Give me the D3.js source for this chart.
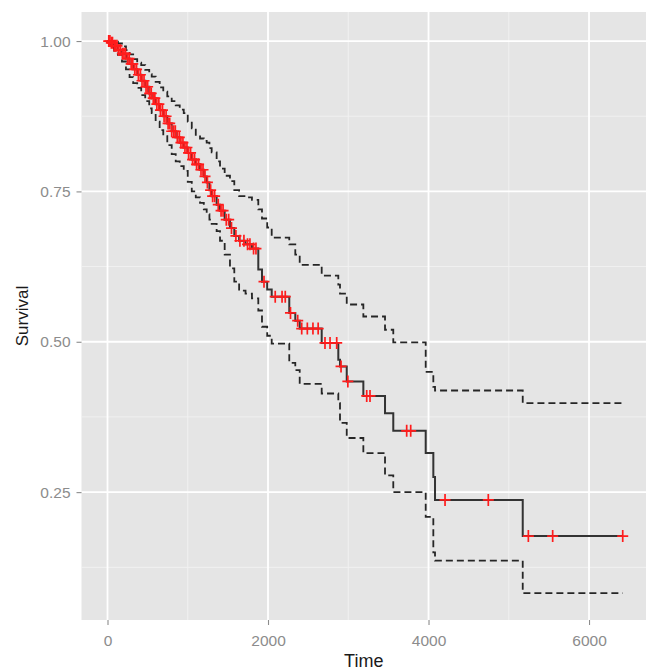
<!DOCTYPE html>
<html>
<head>
<meta charset="utf-8">
<script src="https://cdn.jsdelivr.net/npm/d3@7"></script>
<style>
  body { margin: 0; background: #fff; }
  svg text { font-family: "Liberation Sans", Arial, sans-serif; }
</style>
</head>
<body>
<svg id="chart" width="646" height="671"></svg>
<script>
// Kaplan-Meier estimate (step values after each event)
const eventTime = [0, 35, 80, 130, 180, 230, 275, 320, 370, 420, 470, 520, 551, 600, 650, 695, 745, 800, 850, 900,
  950, 1000, 1050, 1100, 1153, 1200, 1236, 1270, 1298, 1360, 1402, 1460, 1526, 1580, 1640, 1720, 1800,
  1879, 1925, 1990, 2046, 2265, 2340, 2395, 2669, 2876, 2897, 2981, 3188, 3458, 3561, 3965, 4060, 4081, 5174];
const survival = [1.000, 0.997, 0.992, 0.985, 0.979, 0.971, 0.962, 0.953, 0.944, 0.934, 0.924, 0.913, 0.905, 0.895, 0.885, 0.875, 0.863, 0.850, 0.840, 0.831,
  0.823, 0.814, 0.803, 0.795, 0.786, 0.775, 0.765, 0.752, 0.742, 0.728, 0.718, 0.703, 0.689, 0.676, 0.668, 0.662, 0.655,
  0.620, 0.600, 0.587, 0.575, 0.548, 0.535, 0.522, 0.498, 0.470, 0.459, 0.434, 0.410, 0.381, 0.352, 0.315, 0.275, 0.237, 0.177];
const upperCI = [1.000, 1.000, 0.999, 0.996, 0.991, 0.985, 0.978, 0.970, 0.964, 0.960, 0.952, 0.945, 0.941, 0.932, 0.923, 0.916, 0.908, 0.900, 0.893, 0.886,
  0.880, 0.866, 0.855, 0.844, 0.838, 0.834, 0.831, 0.822, 0.815, 0.800, 0.788, 0.776, 0.767, 0.752, 0.742, 0.740, 0.736,
  0.720, 0.705, 0.690, 0.673, 0.662, 0.645, 0.628, 0.610, 0.595, 0.580, 0.562, 0.542, 0.520, 0.499, 0.450, 0.425, 0.419, 0.398];
const lowerCI = [1.000, 0.990, 0.984, 0.977, 0.966, 0.953, 0.940, 0.930, 0.922, 0.910, 0.900, 0.888, 0.880, 0.866, 0.852, 0.842, 0.827, 0.812, 0.800, 0.792,
  0.784, 0.766, 0.750, 0.740, 0.731, 0.720, 0.712, 0.703, 0.696, 0.684, 0.668, 0.645, 0.622, 0.600, 0.585, 0.580, 0.572,
  0.552, 0.525, 0.510, 0.497, 0.465, 0.453, 0.430, 0.414, 0.398, 0.365, 0.340, 0.315, 0.278, 0.250, 0.209, 0.150, 0.136, 0.082];
const endTime = 6420;

// censored observations
const censorTime = [15, 30, 48, 62, 85, 100, 118, 140, 160, 185, 205, 225, 250, 270, 295, 315, 340, 362, 385, 410,
  430, 455, 480, 500, 525, 545, 570, 590, 615, 640, 660, 685, 705, 730, 755, 775, 800, 825, 845, 870,
  895, 915, 940, 965, 990, 1010, 1035, 1060, 1085, 1110, 1135, 1165, 1190, 1215, 1245, 1285, 1310, 1335, 1380, 1415,
  1440, 1480, 1510, 1545, 1600, 1650, 1700, 1745, 1775, 1820, 1850,
  1950, 2090, 2175, 2215, 2280, 2370, 2420, 2490, 2560, 2625, 2710, 2773, 2856, 2910, 2995, 3230, 3271,
  3728, 3778, 4206, 4745, 5244, 5547, 6420];

const xTicks = [0, 2000, 4000, 6000];
const xMinor = [1000, 3000, 5000];
const yTicks = [0.25, 0.50, 0.75, 1.00];
const yMinor = [0.125, 0.375, 0.625, 0.875];

const svg = d3.select("#chart");
const panel = { left: 81.5, right: 646, top: 12, bottom: 620 };

const x = d3.scaleLinear().domain([-324, 6710]).range([panel.left, panel.right]);
const y = d3.scaleLinear().domain([0.0374, 1.0483]).range([panel.bottom, panel.top]);

// panel background + grid
svg.append("rect")
  .attr("x", panel.left).attr("y", panel.top)
  .attr("width", panel.right - panel.left).attr("height", panel.bottom - panel.top)
  .attr("fill", "#e5e5e5");

let grid = svg.append("g");
grid.selectAll("line.ymin").data(yMinor).enter().append("line")
  .attr("x1", panel.left).attr("x2", panel.right)
  .attr("y1", d => y(d)).attr("y2", d => y(d))
  .attr("stroke", "#f2f2f2").attr("stroke-width", 0.9);
grid.selectAll("line.xmin").data(xMinor).enter().append("line")
  .attr("y1", panel.top).attr("y2", panel.bottom)
  .attr("x1", d => x(d)).attr("x2", d => x(d))
  .attr("stroke", "#f2f2f2").attr("stroke-width", 0.9);
grid.selectAll("line.ymaj").data(yTicks).enter().append("line")
  .attr("x1", panel.left).attr("x2", panel.right)
  .attr("y1", d => y(d)).attr("y2", d => y(d))
  .attr("stroke", "#fff").attr("stroke-width", 1.8);
grid.selectAll("line.xmaj").data(xTicks).enter().append("line")
  .attr("y1", panel.top).attr("y2", panel.bottom)
  .attr("x1", d => x(d)).attr("x2", d => x(d))
  .attr("stroke", "#fff").attr("stroke-width", 1.8);

// axes
let xAxis = d3.axisBottom(x).tickValues(xTicks).tickSize(5).tickPadding(10).tickFormat(d3.format("d"));
let yAxis = d3.axisLeft(y).tickValues(yTicks).tickSize(5).tickPadding(6).tickFormat(d3.format(".2f"));

let xGroup = svg.append("g").attr("transform", "translate(0," + panel.bottom + ")").call(xAxis);
let yGroup = svg.append("g").attr("transform", "translate(" + panel.left + ",0)").call(yAxis);
[xGroup, yGroup].forEach(g => {
  g.select(".domain").remove();
  g.selectAll(".tick line").attr("stroke", "#8c8c8c").attr("stroke-width", 1.1);
  g.selectAll(".tick text").attr("fill", "#8c8c8c").style("font-size", "15.5px");
});

// step curves
const stepData = vals => {
  let pts = eventTime.map((t, i) => [t, vals[i]]);
  pts.push([endTime, vals[vals.length - 1]]);
  return pts;
};
const step = d3.line().x(d => x(d[0])).y(d => y(d[1])).curve(d3.curveStepAfter);

svg.append("path").attr("d", step(stepData(upperCI)))
  .attr("fill", "none").attr("stroke", "#262626").attr("stroke-width", 1.8).attr("stroke-dasharray", "7,4");
svg.append("path").attr("d", step(stepData(lowerCI)))
  .attr("fill", "none").attr("stroke", "#262626").attr("stroke-width", 1.8).attr("stroke-dasharray", "7,4");
svg.append("path").attr("d", step(stepData(survival)))
  .attr("fill", "none").attr("stroke", "#333").attr("stroke-width", 2);

// censor marks sit on the curve
const survAt = t => survival[d3.bisectRight(eventTime, t) - 1];
svg.append("g").selectAll("path").data(censorTime).enter().append("path")
  .attr("d", "M-5.5,0H5.5M0,-6V6")
  .attr("transform", d => "translate(" + x(d) + "," + y(survAt(d)) + ")")
  .attr("stroke", "#ff1c1c").attr("stroke-width", 1.7).attr("fill", "none");

// axis titles
svg.append("text").text("Time")
  .attr("x", (panel.left + panel.right) / 2).attr("y", 667)
  .attr("text-anchor", "middle").style("font-size", "18px").attr("fill", "#1a1a1a");
svg.append("text").text("Survival")
  .attr("transform", "translate(28," + (panel.top + panel.bottom) / 2 + ") rotate(-90)")
  .attr("text-anchor", "middle").style("font-size", "17px").attr("fill", "#1a1a1a");
</script>
</body>
</html>
